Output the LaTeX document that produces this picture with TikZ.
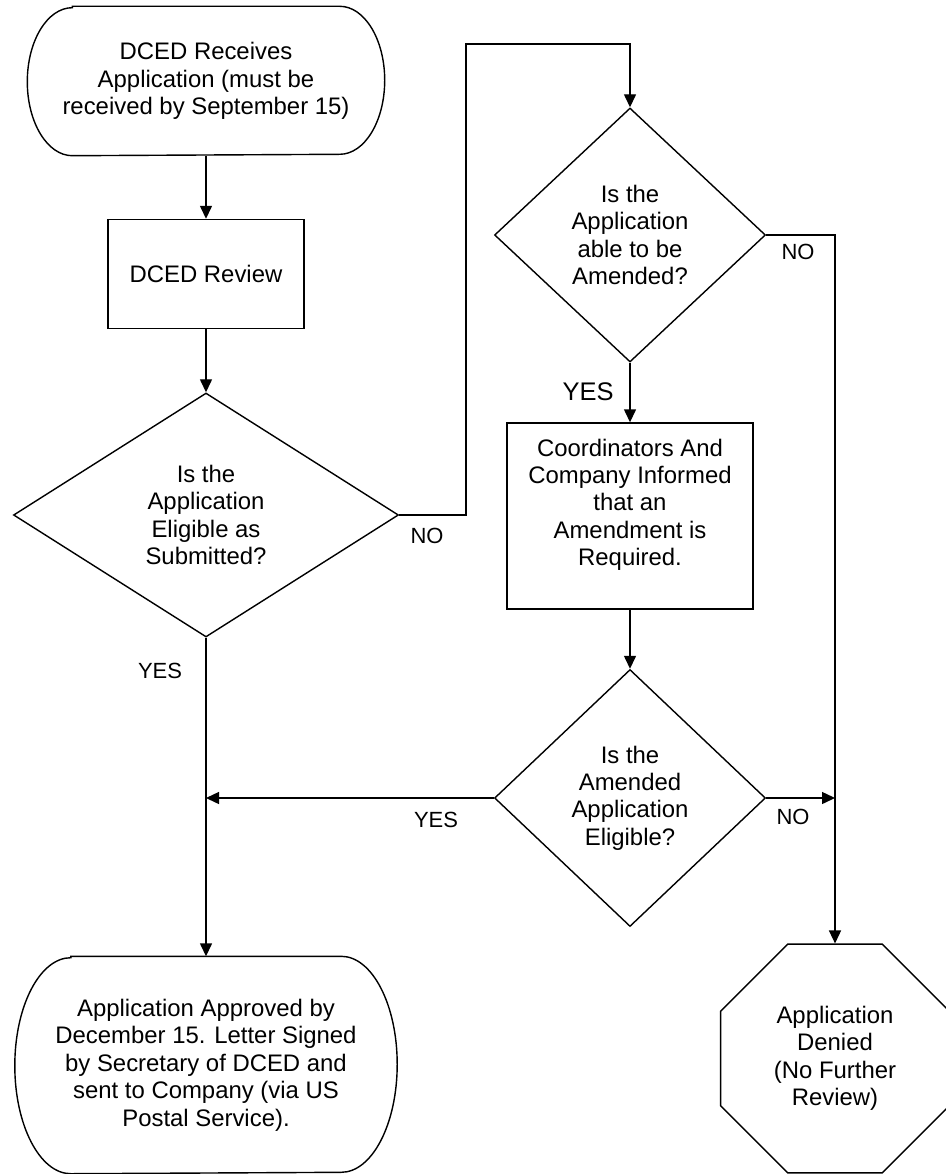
\documentclass[tikz,border=0pt]{standalone}
\usepackage{fontspec}
\setmainfont{Liberation Sans}
\usetikzlibrary{arrows.meta}
\usetikzlibrary{shapes.geometric}
\usetikzlibrary{calc,positioning}

% contorno de terminal com pontas elípticas
\newcommand{\termoutline}[3]{%
  \draw ([xshift=#2]#1.north west) -- ([xshift=-#2]#1.north east)
    arc[start angle=90, end angle=-90, x radius=#2, y radius=#3]
    -- ([xshift=#2]#1.south west)
    arc[start angle=270, end angle=90, x radius=#2, y radius=#3] -- cycle;}

\begin{document}
\begin{tikzpicture}[>={Triangle[length=0.26cm, width=0.24cm]}, line width=0.8pt,
    every node/.style={font=\fontsize{13.6}{15.6}\selectfont, align=center},
    terminal/.style={rectangle, inner sep=0pt},
    process/.style={draw, rectangle, inner sep=2pt},
    decision/.style={draw, diamond, inner sep=0pt},
    stopsign/.style={draw, regular polygon, regular polygon sides=8, minimum size=4.95cm, inner sep=0pt},
    lbl/.style={font=\fontsize{12.5}{14}\selectfont}]

    \useasboundingbox (0,0) rectangle (18.9,-23.48);

    % terminais
    \node[terminal, minimum width=7.12cm, minimum height=2.96cm] (start) at (4.12,-1.62)
        {DCED Receives\\Application (must be\\received by September 15)};
    \termoutline{start}{0.9cm}{1.48cm}

    % caixas e decisões
    \node[process, minimum width=3.92cm, minimum height=2.18cm] (review) at (4.12,-5.48) {DCED Review};
    \node[decision, minimum width=7.7cm, minimum height=4.88cm] (eligible) at (4.12,-10.30)
        {Is the\\Application\\Eligible as\\Submitted?};
    \node[decision, minimum width=5.42cm, minimum height=5.08cm] (amendable) at (12.6,-4.70)
        {Is the\\Application\\able to be\\Amended?};
    \node[process, minimum width=4.92cm, minimum height=3.72cm] (inform) at (12.6,-10.32)
        {Coordinators And\\Company Informed\\that an\\Amendment is\\Required.\\\mbox{}};
    \node[decision, minimum width=5.42cm, minimum height=5.14cm] (amended) at (12.6,-15.96)
        {Is the\\Amended\\Application\\Eligible?};

    \node[terminal, minimum width=7.62cm, minimum height=4.32cm] (approved) at (4.12,-21.30)
        {Application Approved by\\December 15. Letter Signed\\by Secretary of DCED and\\sent to Company (via US\\Postal Service).};
    \termoutline{approved}{1.12cm}{2.16cm}
    \node[stopsign] (denied) at (16.7,-21.17) {Application\\Denied\\(No Further\\Review)};

    % ligações
    \draw[->] (start) -- (review);
    \draw[->] (review) -- (eligible);
    \coordinate (nocorner) at (9.32,-0.88);
    \draw[->] (eligible.east) -| (nocorner) -| (amendable.north);
    \draw[->] (amendable) -- (inform);
    \draw[->] (amendable.east) -| (denied.north);
    \draw[->] (inform) -- (amended);
    \coordinate (yesjoin) at (eligible.south |- amended.west);
    \coordinate (nojoin) at (denied.north |- amended.east);
    \draw[->] (amended.west) -- (yesjoin);
    \draw[->] (amended.east) -- (nojoin);
    \draw[->] (eligible) -- (approved);

    % rótulos
    \node[lbl] (noeligible) at (8.54,-10.72) {NO};
    \node[lbl] (yeseligible) at (3.2,-13.42) {YES};
    \node[lbl, font=\fontsize{14.5}{16}\selectfont] (yesamend) at (11.76,-7.84) {YES};
    \node[lbl] (noamend) at (15.96,-5.04) {NO};
    \node[lbl] (yesamended) at (8.72,-16.4) {YES};
    \node[lbl] (noamended) at (15.86,-16.34) {NO};

\end{tikzpicture}
\end{document}
